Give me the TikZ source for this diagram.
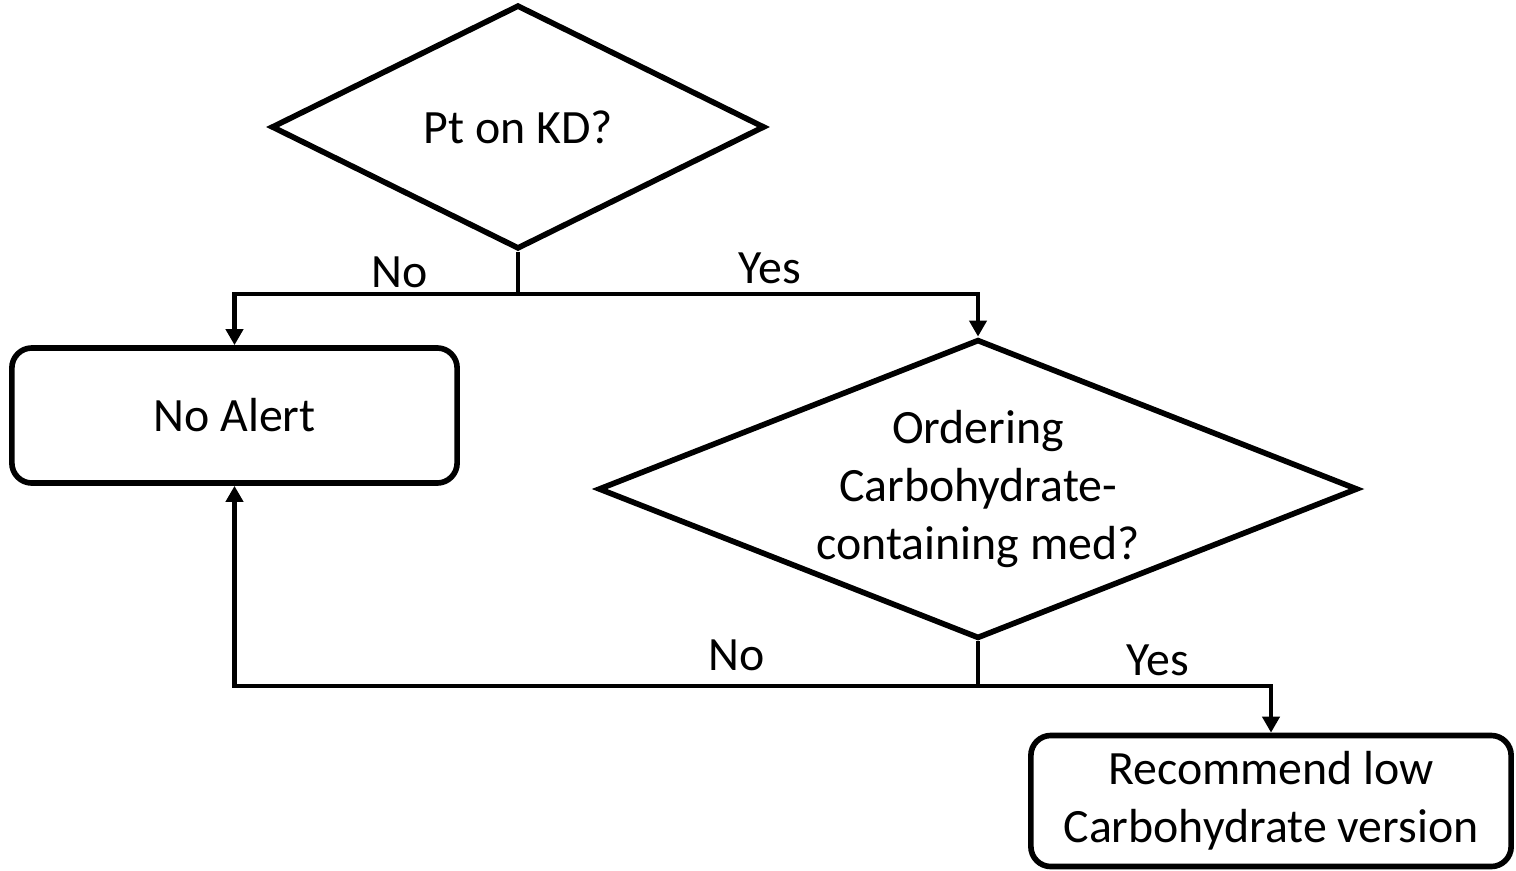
\documentclass[tikz,border=0pt]{standalone}
\usepackage{fontspec}
\setmainfont{Carlito}
\usetikzlibrary{shapes.geometric,arrows.meta}

\begin{document}
\begin{tikzpicture}[x=0.01cm,y=-0.01cm,
    font=\fontsize{13.6}{16.6}\selectfont,
    decision/.style={diamond,draw,line width=1.6pt,inner sep=0pt,align=center},
    outcome/.style={rectangle,draw,line width=1.6pt,rounded corners=0.2cm,align=center},
    flow/.style={line width=1.4pt,-{Triangle[width=0.17cm,length=0.16cm]}},
    branch/.style={line width=1.4pt}]
    \useasboundingbox (0,0) rectangle (1516,870);
    % questions
    \node[decision,aspect=2.02,minimum width=4.93cm,minimum height=2.44cm] (kd) at (518,127) {Pt on KD?};
    \node[decision,aspect=2.54,minimum width=7.59cm,minimum height=2.99cm] (carb) at (978,489)
        {Ordering\\Carbohydrate-\\containing med?};
    % outcomes
    \node[outcome,minimum width=4.45cm,minimum height=1.35cm] (noalert) at (234.5,415.5) {No Alert};
    \node[outcome,minimum width=4.8cm,minimum height=1.31cm] (recommend) at (1271,801)
        {Recommend low\\Carbohydrate version};
    % connectors
    \coordinate (kdsplit) at (518,294);
    \coordinate (carbsplit) at (978,686);
    \draw[branch] (kd.south) -- (kdsplit);
    \draw[flow] (kdsplit) -| (noalert.north);
    \draw[flow] (kdsplit) -| (carb.north);
    \draw[branch] (carb.south) -- (carbsplit);
    \draw[flow] (carbsplit) -| (noalert.south);
    \draw[flow] (carbsplit) -| (recommend.north);
    % labels
    \node (kdno) at (400,272) {No};
    \node (kdyes) at (770,268) {Yes};
    \node (carbno) at (737,655) {No};
    \node (carbyes) at (1158,660) {Yes};
\end{tikzpicture}
\end{document}
